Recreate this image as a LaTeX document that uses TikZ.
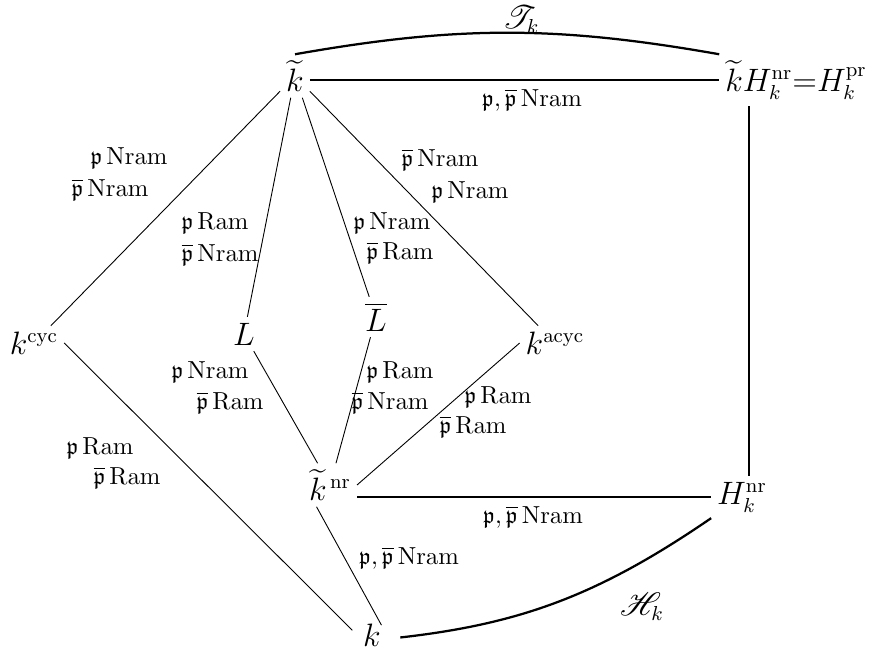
\documentclass[tikz,border=0pt]{standalone}
\usepackage{amsmath,amssymb}
\usepackage{mathrsfs}
\usepackage{tikz}
\newcommand{\pfr}{\mathfrak{p}}
\newcommand{\pbar}{\overline{\mathfrak{p}}}

\begin{document}
\begin{tikzpicture}[x=0.01563cm,y=-0.01563cm,line join=round,
  obj/.style={font=\fontsize{13.5}{16}\selectfont,inner sep=2.5pt},
  lab/.style={font=\fontsize{10.5}{12.6}\selectfont,inner sep=1pt},
  link/.style={line width=1pt}]
  \useasboundingbox (0,0) rectangle (869,651);
  % fields
  \node[obj] (kt) at (295,76) {$\widetilde{k}$};
  \node[obj] (ktop) at (796,80) {$\widetilde{k}H_k^{\mathrm{nr}}{=}H_k^{\mathrm{pr}}$};
  \node[obj] (kcyc) at (34,343) {$k^{\mathrm{cyc}}$};
  \node[obj] (L) at (244,334) {$L$};
  \node[obj] (Lb) at (376,317) {$\overline{L}$};
  \node[obj] (kacyc) at (555,343) {$k^{\mathrm{acyc}}$};
  \node[obj] (knr) at (330,485) {$\widetilde{k}^{\,\mathrm{nr}}$};
  \node[obj] (Hnr) at (742,497) {$H_k^{\mathrm{nr}}$};
  \node[obj] (k) at (372,635) {$k$};
  % extensions
  \draw (kt) -- (kcyc);
  \draw (kt) -- (L);
  \draw (kt) -- (Lb);
  \draw (kt) -- (kacyc);
  \draw (knr) -- (L);
  \draw (knr) -- (Lb);
  \draw (knr.east) -- (kacyc.west);
  \draw[shorten >=5pt] ([xshift=-6pt]knr.south) -- (k.east);
  \draw[shorten >=3pt] (kcyc.east) -- (k.west);
  \draw[link] (ktop.west -| kt.east) -- (ktop.west);
  \draw[link] (Hnr.west -| knr.east) -- (Hnr.west);
  \draw[link] ([xshift=3pt]Hnr.north) -- ([xshift=3pt]Hnr.north |- ktop.south);
  \draw[link] (kt.north) to[bend left=10] (ktop.north west);
  \draw[link,shorten <=6pt] (k.-15) to[bend right=14] (Hnr.south west);
  % ramification
  \node[lab] (a1) at (129,158) {$\pfr\,\mathrm{Nram}$};
  \node[lab] (a2) at (110,190) {$\pbar\,\mathrm{Nram}$};
  \node[lab] (b1) at (215,223) {$\pfr\,\mathrm{Ram}$};
  \node[lab] (b2) at (220,255) {$\pbar\,\mathrm{Nram}$};
  \node[lab] (c1) at (392,223) {$\pfr\,\mathrm{Nram}$};
  \node[lab] (c2) at (400,253) {$\pbar\,\mathrm{Ram}$};
  \node[lab] (d1) at (440,160) {$\pbar\,\mathrm{Nram}$};
  \node[lab] (d2) at (470,192) {$\pfr\,\mathrm{Nram}$};
  \node[lab] (e1) at (210,372) {$\pfr\,\mathrm{Nram}$};
  \node[lab] (e2) at (230,403) {$\pbar\,\mathrm{Ram}$};
  \node[lab] (f1) at (400,372) {$\pfr\,\mathrm{Ram}$};
  \node[lab] (f2) at (390,403) {$\pbar\,\mathrm{Nram}$};
  \node[lab] (g1) at (498,397) {$\pfr\,\mathrm{Ram}$};
  \node[lab] (g2) at (473,427) {$\pbar\,\mathrm{Ram}$};
  \node[lab] (h1) at (100,448) {$\pfr\,\mathrm{Ram}$};
  \node[lab] (h2) at (127,478) {$\pbar\,\mathrm{Ram}$};
  \node[lab] (i1) at (409,558) {$\pfr,\pbar\,\mathrm{Nram}$};
  \node[lab] (j1) at (533,517) {$\pfr,\pbar\,\mathrm{Nram}$};
  \node[lab] (m1) at (532,100) {$\pfr,\pbar\,\mathrm{Nram}$};
  \node[obj] (tk) at (521,20) {$\mathscr{T}_k$};
  \node[obj] (hk) at (642,607) {$\mathscr{H}_k$};
\end{tikzpicture}
\end{document}
